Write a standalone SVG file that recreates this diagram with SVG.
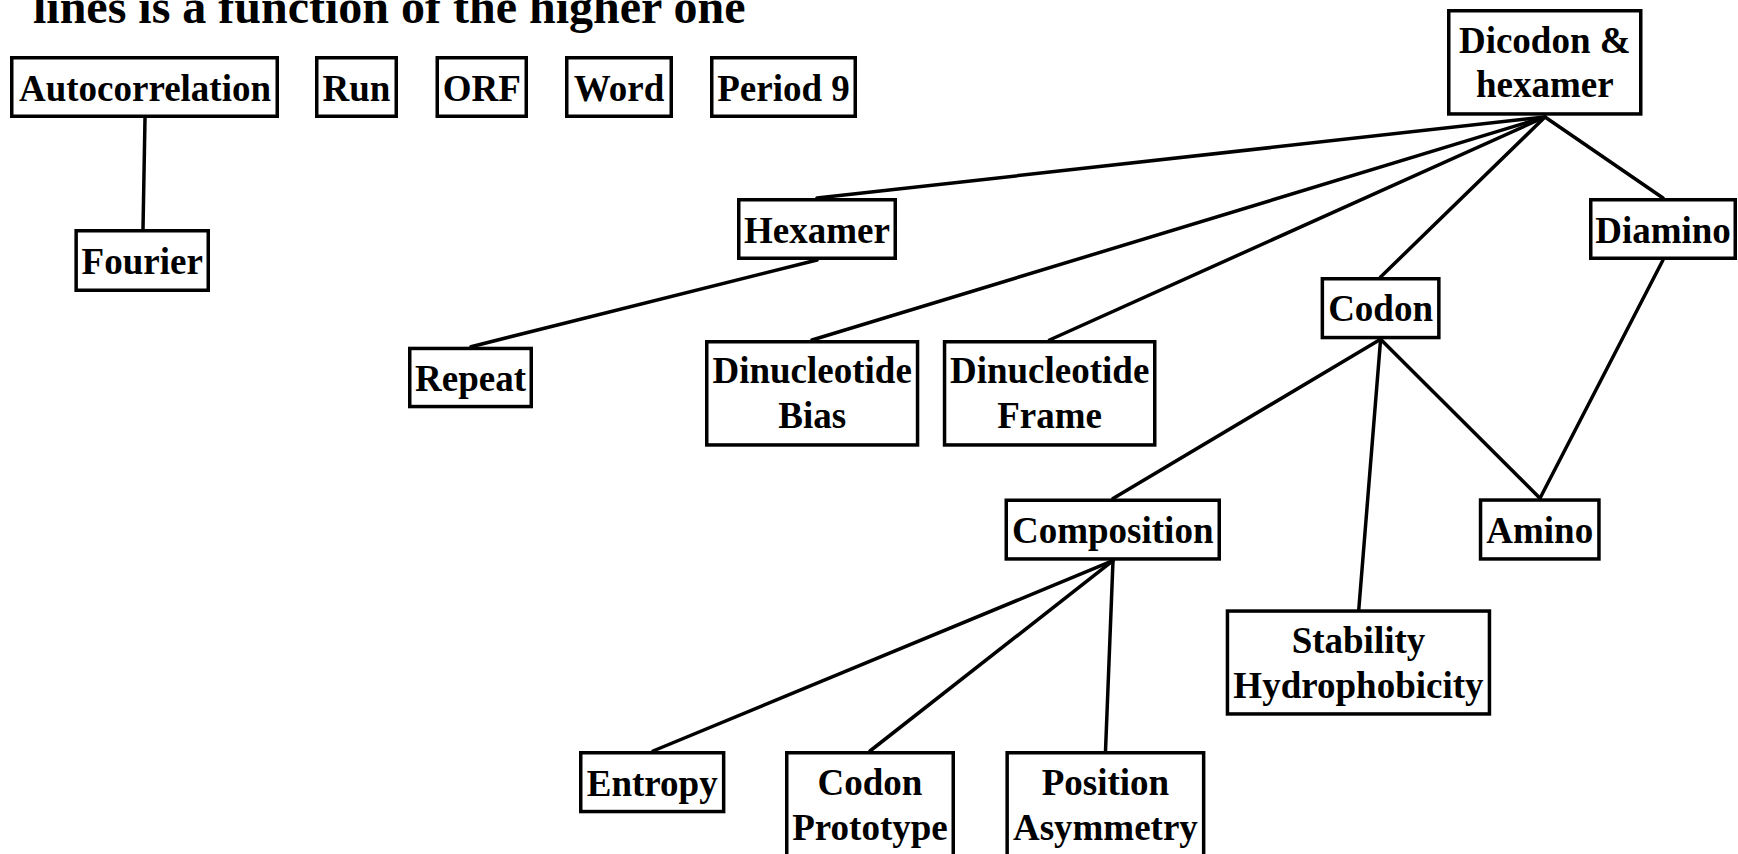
<svg xmlns="http://www.w3.org/2000/svg" width="1738" height="854" viewBox="0 0 1738 854">
<style>
  .box { fill: #ffffff; stroke: #000000; stroke-width: 3.5; }
  .lbl { font-family: "Liberation Serif", "Times New Roman", serif; font-weight: bold; font-size: 37px; fill: #000000; text-anchor: middle; }
  .title { font-family: "Liberation Serif", "Times New Roman", serif; font-weight: bold; font-size: 48px; fill: #000000; }
  .edge { stroke: #000000; stroke-width: 3.5; fill: none; stroke-linecap: round; }
</style>
<rect x="0" y="0" width="1738" height="854" fill="#ffffff"/>
<text class="title" x="33" y="22.5">lines is a function of the higher one</text>

<g id="connectors">
  <line class="edge" x1="145" y1="118" x2="143" y2="229"/>
  <line class="edge" x1="1545" y1="117" x2="817" y2="198"/>
  <line class="edge" x1="1545" y1="117" x2="812" y2="340"/>
  <line class="edge" x1="1545" y1="117" x2="1049.5" y2="340"/>
  <line class="edge" x1="1545" y1="117" x2="1380.6" y2="277"/>
  <line class="edge" x1="1545" y1="117" x2="1663" y2="198"/>
  <line class="edge" x1="817" y1="260" x2="471" y2="346.7"/>
  <line class="edge" x1="1380.6" y1="339.3" x2="1113" y2="498.5"/>
  <line class="edge" x1="1380.6" y1="339.3" x2="1358.8" y2="609.3"/>
  <line class="edge" x1="1380.6" y1="339.3" x2="1540" y2="498.3"/>
  <line class="edge" x1="1663" y1="260" x2="1540" y2="498.3"/>
  <line class="edge" x1="1113" y1="560.7" x2="653" y2="751"/>
  <line class="edge" x1="1113" y1="560.7" x2="870" y2="751"/>
  <line class="edge" x1="1113" y1="560.7" x2="1105.5" y2="751"/>
</g>

<g id="node-autocorrelation">
  <rect class="box" x="11.75" y="57.75" width="265.5" height="58.5"/>
  <text class="lbl" x="145" y="100.7">Autocorrelation</text>
</g>
<g id="node-run">
  <rect class="box" x="316.75" y="57.75" width="79.5" height="58.5"/>
  <text class="lbl" x="356.5" y="100.7">Run</text>
</g>
<g id="node-orf">
  <rect class="box" x="437.25" y="57.75" width="89" height="58.5"/>
  <text class="lbl" x="481.75" y="100.7">ORF</text>
</g>
<g id="node-word">
  <rect class="box" x="566.75" y="57.75" width="104.5" height="58.5"/>
  <text class="lbl" x="619" y="100.7">Word</text>
</g>
<g id="node-period9">
  <rect class="box" x="711.75" y="57.75" width="143.5" height="58.5"/>
  <text class="lbl" x="783.5" y="100.7">Period 9</text>
</g>
<g id="node-fourier">
  <rect class="box" x="76.15" y="230.75" width="132.1" height="59.5"/>
  <text class="lbl" x="142.2" y="273.5">Fourier</text>
</g>
<g id="node-dicodon-hexamer">
  <rect class="box" x="1448.75" y="10.75" width="192" height="103.2"/>
  <text class="lbl" x="1544.75" y="52.5">Dicodon &amp;</text>
  <text class="lbl" x="1544.75" y="97">hexamer</text>
</g>
<g id="node-hexamer">
  <rect class="box" x="738.75" y="199.75" width="156.5" height="58.5"/>
  <text class="lbl" x="817" y="242.5">Hexamer</text>
</g>
<g id="node-diamino">
  <rect class="box" x="1590.75" y="199.75" width="144.5" height="58.5"/>
  <text class="lbl" x="1663" y="242.5">Diamino</text>
</g>
<g id="node-repeat">
  <rect class="box" x="409.75" y="348.45" width="121.5" height="58.1"/>
  <text class="lbl" x="470.5" y="391">Repeat</text>
</g>
<g id="node-dinucleotide-bias">
  <rect class="box" x="706.75" y="341.75" width="210.8" height="103.2"/>
  <text class="lbl" x="812.15" y="383.3">Dinucleotide</text>
  <text class="lbl" x="812.15" y="428.3">Bias</text>
</g>
<g id="node-dinucleotide-frame">
  <rect class="box" x="944.55" y="341.75" width="210.2" height="103.2"/>
  <text class="lbl" x="1049.65" y="383.3">Dinucleotide</text>
  <text class="lbl" x="1049.65" y="428.3">Frame</text>
</g>
<g id="node-codon">
  <rect class="box" x="1322.35" y="278.75" width="116.5" height="58.8"/>
  <text class="lbl" x="1380.6" y="321">Codon</text>
</g>
<g id="node-composition">
  <rect class="box" x="1006.25" y="500.25" width="213" height="58.7"/>
  <text class="lbl" x="1112.75" y="543">Composition</text>
</g>
<g id="node-amino">
  <rect class="box" x="1480.55" y="500.05" width="118.4" height="58.9"/>
  <text class="lbl" x="1539.75" y="543">Amino</text>
</g>
<g id="node-stability-hydrophobicity">
  <rect class="box" x="1227.45" y="611.05" width="262" height="102.9"/>
  <text class="lbl" x="1358.45" y="653">Stability</text>
  <text class="lbl" x="1358.45" y="698.3">Hydrophobicity</text>
</g>
<g id="node-entropy">
  <rect class="box" x="580.75" y="752.75" width="142.9" height="58.8"/>
  <text class="lbl" x="652.2" y="795.5">Entropy</text>
</g>
<g id="node-codon-prototype">
  <rect class="box" x="786.75" y="752.75" width="166.5" height="110"/>
  <text class="lbl" x="870" y="795">Codon</text>
  <text class="lbl" x="870" y="840">Prototype</text>
</g>
<g id="node-position-asymmetry">
  <rect class="box" x="1007.15" y="752.75" width="196.5" height="110"/>
  <text class="lbl" x="1105.4" y="795">Position</text>
  <text class="lbl" x="1105.4" y="840">Asymmetry</text>
</g>
</svg>
